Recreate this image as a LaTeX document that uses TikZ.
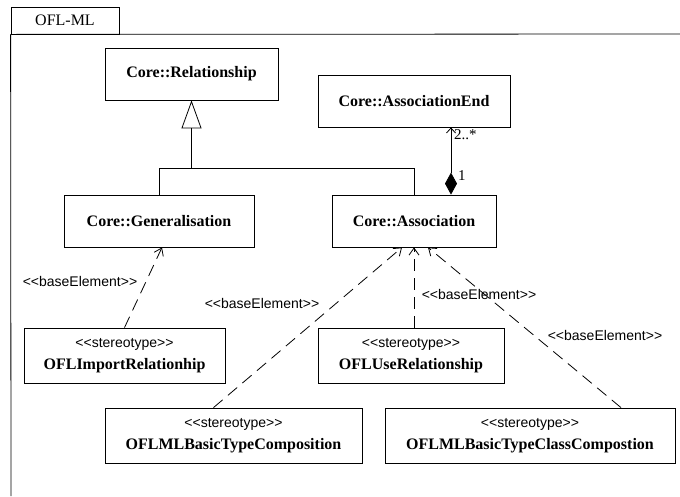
\documentclass[tikz,border=0pt]{standalone}
\usepackage{fontspec}
\setmainfont{Liberation Serif}
\setsansfont{Liberation Sans}
\usetikzlibrary{arrows.meta}

\newcommand{\stereo}[1]{\textless\kern0pt\textless#1\textgreater\kern0pt\textgreater}

\begin{document}
\begin{tikzpicture}[
  x=1pt, y=-1pt,
  cls/.style={rectangle, draw=black, line width=0.8pt, fill=white, minimum height=52pt, align=center, font=\bfseries\fontsize{16}{18}\selectfont},
  stereobox/.style={rectangle, draw=black, line width=0.8pt, fill=white, minimum height=55pt, align=center, font=\bfseries\fontsize{16}{22}\selectfont},
  lbl/.style={font=\sffamily\fontsize{14}{16}\selectfont, inner sep=0pt},
  mult/.style={font=\fontsize{15}{17}\selectfont, inner sep=0pt},
  gen/.style={line width=0.8pt, -{Triangle[open, length=28pt, width=20pt]}},
  comp/.style={line width=0.8pt, {Diamond[length=22pt, width=12pt]}-{Straight Barb[length=5pt, width=9pt]}},
  dep/.style={line width=0.8pt, dash pattern=on 12pt off 7pt, -{Straight Barb[length=7pt, width=10pt]}}
]
\useasboundingbox (0,0) rectangle (680,496);

% --- PACKAGE FRAME ---
\node[draw=black, line width=0.8pt, minimum width=108pt, minimum height=27pt, inner sep=0pt, font=\fontsize{16}{18}\selectfont] (tab) at (65,20.5) {OFL-ML};
\draw[line width=0.8pt] (tab.south west) -- (11,496);
\draw[line width=0.8pt] (tab.south west) -- (680,34);

% --- CORE METACLASSES ---
\node[cls, minimum width=173pt] (rel) at (191.5,74) {Core::Relationship};
\node[cls, minimum width=192pt] (assocEnd) at (414,101) {Core::AssociationEnd};
\node[cls, minimum width=190pt] (generalisation) at (159,221) {Core::Generalisation};
\node[cls, minimum width=164pt] (assoc) at (414,221) {Core::Association};

% Generalisation tree up to Relationship
\coordinate (join) at (191.5,168);
\draw[line width=0.8pt] (generalisation.north) |- (assoc.north |- join) -- (assoc.north);
\draw[gen] (join) -- (rel.south);

% Composition Association -> AssociationEnd
\draw[comp] ([xshift=37]assoc.north) -- ([xshift=37]assocEnd.south);
\node[mult, anchor=west] (multEnd) at (454,135) {2..*};
\node[mult, anchor=west] (multOne) at (458,176) {1};

% --- STEREOTYPES ---
\node[stereobox, minimum width=201pt] (imp) at (124.5,355.5) {{\mdseries\sffamily\fontsize{14}{16}\selectfont\stereo{stereotype}}\\OFLImportRelationhip};
\node[stereobox, minimum width=186pt] (use) at (411,355.5) {{\mdseries\sffamily\fontsize{14}{16}\selectfont\stereo{stereotype}}\\OFLUseRelationship};
\node[stereobox, minimum width=257pt] (btc) at (233.5,435.5) {{\mdseries\sffamily\fontsize{14}{16}\selectfont\stereo{stereotype}}\\OFLMLBasicTypeComposition};
\node[stereobox, minimum width=290pt] (btcc) at (530,435.5) {{\mdseries\sffamily\fontsize{14}{16}\selectfont\stereo{stereotype}}\\OFLMLBasicTypeClassCompostion};

% baseElement dependencies
\foreach \src/\sx/\dst/\dx in {imp/0/generalisation/3, btc/-20/assoc/-12, use/3/assoc/0, btcc/91/assoc/14} {
  \draw[dep] ([xshift=\sx]\src.north) -- ([xshift=\dx]\dst.south);
}

% baseElement labels
\foreach \i/\x/\y in {1/80/281, 2/262/303, 3/479/294, 4/605/335} {
  \node[lbl] (base\i) at (\x,\y) {\stereo{baseElement}};
}

\end{tikzpicture}
\end{document}
